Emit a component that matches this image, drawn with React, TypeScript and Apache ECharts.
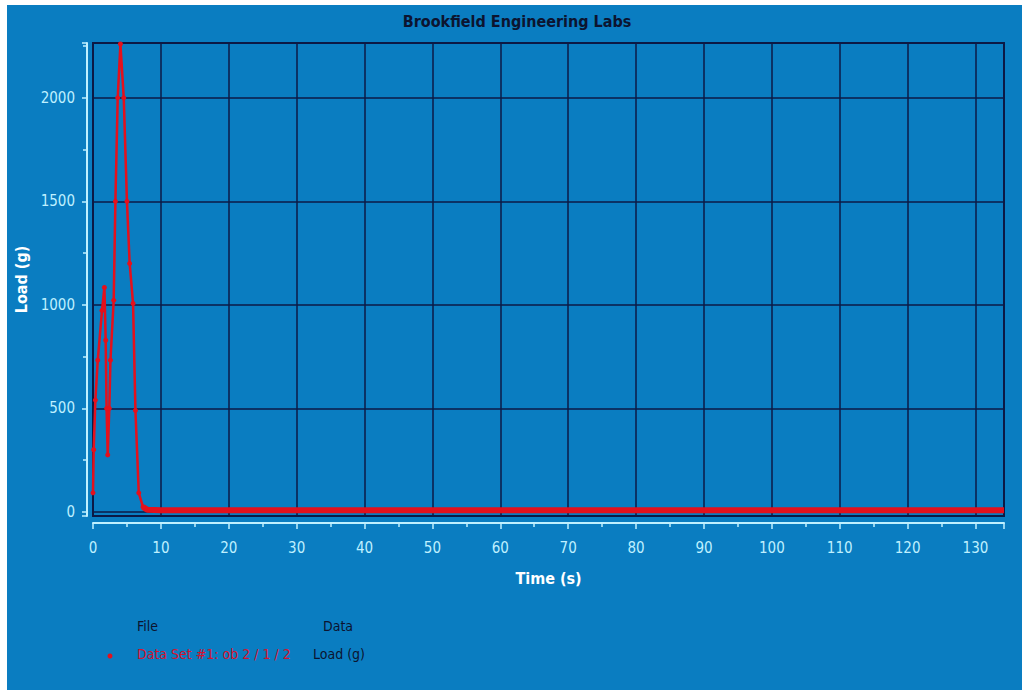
import React, { useEffect, useRef } from "react";
import * as echarts from "echarts";

const title = "Brookfield Engineering Labs";
const xName = "Time (s)";
const yName = "Load (g)";
const legendFileHeader = "File";
const legendDataHeader = "Data";
const legendFile = "Data Set #1: ob 2 / 1 / 2";
const legendData = "Load (g)";

// Time (s) of the measured load curve during the test
const peakTimes = [0, 0.1, 0.35, 0.7, 1.33, 1.68, 1.87, 2.0, 2.17, 2.4, 2.57, 3.05, 3.3, 3.64, 4.04, 4.53, 5.0, 5.4, 5.9, 6.25, 6.74, 7.37];
const peakLoads = [92, 300, 540, 733, 973, 1084, 829, 500, 275, 500, 733, 1022, 1500, 2000, 2260, 2000, 1500, 1200, 1007, 490, 92, 24];
// Flat tail after release
const tailTimes = [7.37, 8, 10, 20, 30, 40, 50, 60, 70, 80, 90, 100, 110, 120, 130, 134.2];
const tailLoads = [24, 10, 8, 8, 8, 8, 8, 8, 8, 8, 8, 8, 8, 8, 8, 8];

const xTicks = { min: 0, max: 134.2, interval: 10 };
const yRange = { min: -20, max: 2265 };

const FONT = "'Liberation Sans Narrow', 'DejaVu Sans Condensed', 'Arial Narrow', Roboto, sans-serif";
const BLUE = "#0a7dc1";
const AXIS = "#bff0ff";
const GRID = "#0d1a46";
const RED = "#e4101c";
const DARK = "#0c1430";

export default function App() {
  const ref = useRef<HTMLDivElement>(null);
  useEffect(() => {
    if (!ref.current) return;
    const chart = echarts.init(ref.current, undefined, { renderer: "svg" });
    const peak = peakTimes.map((t, i) => [t, peakLoads[i]]);
    const tail = tailTimes.map((t, i) => [t, tailLoads[i]]);
    chart.setOption({
      animation: false,
      backgroundColor: "#ffffff",
      title: {
        text: title,
        left: 512,
        top: 8,
        textAlign: "center",
        textStyle: { color: DARK, fontFamily: FONT, fontWeight: "bold", fontSize: 16 },
      },
      grid: {
        left: 93,
        right: 18,
        top: 43,
        bottom: 177,
        show: true,
        borderColor: GRID,
        borderWidth: 2,
        backgroundColor: "transparent",
      },
      graphic: [
        { type: "rect", z: -100, shape: { x: 7, y: 5, width: 1015, height: 685 }, style: { fill: BLUE }, silent: true },
        { type: "text", left: 137, top: 619, style: { text: legendFileHeader, fill: DARK, font: `14px ${FONT}` } },
        { type: "text", left: 323, top: 619, style: { text: legendDataHeader, fill: DARK, font: `14px ${FONT}` } },
        { type: "circle", shape: { cx: 110, cy: 656, r: 2.5 }, style: { fill: RED } },
        { type: "text", left: 137, top: 647, style: { text: legendFile, fill: "#d4122e", font: `14px ${FONT}` } },
        { type: "text", left: 313, top: 647, style: { text: legendData, fill: DARK, font: `14px ${FONT}` } },
      ],
      xAxis: {
        type: "value",
        min: xTicks.min,
        max: xTicks.max,
        interval: xTicks.interval,
        offset: 7,
        name: xName,
        nameLocation: "middle",
        nameGap: 47,
        nameTextStyle: { color: "#ffffff", fontFamily: FONT, fontWeight: "bold", fontSize: 16 },
        axisLine: { show: true, onZero: false, lineStyle: { color: AXIS, width: 2 } },
        axisTick: { show: true, length: 6, lineStyle: { color: AXIS, width: 1.5 } },
        minorTick: { show: true, splitNumber: 2, length: 4, lineStyle: { color: AXIS, width: 1.5 } },
        axisLabel: { color: AXIS, fontFamily: FONT, fontSize: 15, margin: 17, showMaxLabel: false },
        splitLine: { show: true, lineStyle: { color: GRID, width: 1.5 } },
      },
      yAxis: {
        type: "value",
        min: yRange.min,
        max: yRange.max,
        splitNumber: 5,
        offset: 6,
        name: yName,
        nameLocation: "middle",
        nameGap: 54,
        nameRotate: 90,
        nameTextStyle: { color: "#ffffff", fontFamily: FONT, fontWeight: "bold", fontSize: 16 },
        axisLine: { show: true, onZero: false, lineStyle: { color: AXIS, width: 2 } },
        axisTick: { show: true, length: 5, lineStyle: { color: AXIS, width: 1.5 } },
        minorTick: { show: true, splitNumber: 2, length: 4, lineStyle: { color: AXIS, width: 1.5 } },
        axisLabel: {
          color: AXIS,
          fontFamily: FONT,
          fontSize: 15,
          margin: 12,
          showMinLabel: false,
          showMaxLabel: false,
          formatter: (v: number) => String(v),
        },
        splitLine: { show: true, lineStyle: { color: GRID, width: 1.5 } },
      },
      series: [
        {
          type: "line",
          name: legendFile,
          data: tail,
          showSymbol: false,
          symbol: "none",
          lineStyle: { color: RED, width: 6 },
          z: 3,
        },
        {
          type: "line",
          name: legendFile,
          data: peak,
          symbol: "circle",
          symbolSize: 5,
          itemStyle: { color: RED },
          lineStyle: { color: RED, width: 2.5 },
          z: 4,
        },
      ],
    });
    return () => chart.dispose();
  }, []);
  return (
    <div
      ref={ref}
      style={{ position: "absolute", left: 0, top: 0, width: 1022, height: 693 }}
    />
  );
}
